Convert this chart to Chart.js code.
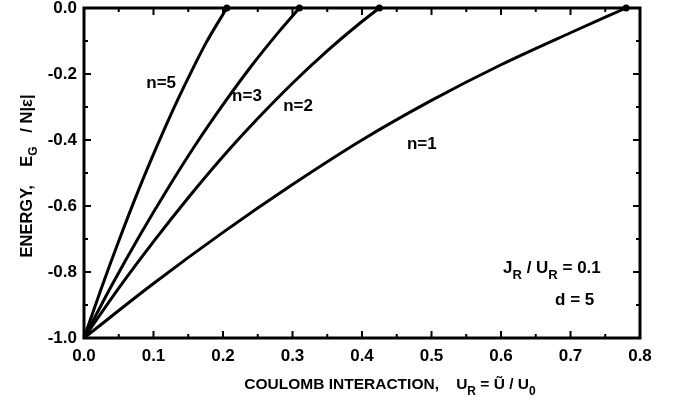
<!DOCTYPE html>
<html><head><meta charset="utf-8">
<script src="https://cdn.jsdelivr.net/npm/chart.js@4/dist/chart.umd.min.js"></script>
<style>html,body{margin:0;padding:0;background:#fff;}#wrap{width:673px;height:411px;}</style>
</head><body><div id="wrap"><canvas id="c" width="673" height="411"></canvas></div>
<script>
// ---- data ----
const seriesNames = ["n=1", "n=2", "n=3", "n=5"];
const u_n1 = [0, 0.1, 0.2, 0.3, 0.4, 0.5, 0.6, 0.7, 0.78];
const e_n1 = [-1, -0.835, -0.68, -0.535, -0.40, -0.28, -0.172, -0.075, 0];
const u_n2 = [0, 0.05, 0.1, 0.15, 0.2, 0.25, 0.3, 0.35, 0.4, 0.425];
const e_n2 = [-1, -0.849, -0.708, -0.575, -0.45, -0.335, -0.228, -0.13, -0.041, 0];
const u_n3 = [0, 0.04, 0.08, 0.12, 0.16, 0.2, 0.24, 0.28, 0.31];
const e_n3 = [-1, -0.84, -0.69, -0.549, -0.416, -0.293, -0.178, -0.073, 0];
const u_n5 = [0, 0.025, 0.05, 0.075, 0.1, 0.125, 0.15, 0.175, 0.2055];
const e_n5 = [-1, -0.849, -0.706, -0.57, -0.443, -0.323, -0.212, -0.108, 0];
const xTickLabels = ["0.0","0.1","0.2","0.3","0.4","0.5","0.6","0.7","0.8"];
const yTickLabels = ["-1.0","-0.8","-0.6","-0.4","-0.2","0.0"];

// label anchor points (data coords)
const curveLabelU = [0.486, 0.308, 0.2345, 0.111];
const curveLabelE = [-0.412, -0.297, -0.267, -0.227];

const FONT = '"Liberation Sans", Arial, Helvetica, sans-serif';
const mk = (us, es) => us.map((u, i) => ({x: u, y: es[i]}));
const allU = [u_n1, u_n2, u_n3, u_n5];
const allE = [e_n1, e_n2, e_n3, e_n5];

const datasets = allU.map((us, k) => ({
  label: seriesNames[k],
  data: mk(us, allE[k]),
  showLine: true,
  borderColor: '#000',
  borderWidth: 3,
  backgroundColor: '#000',
  pointBackgroundColor: '#000',
  pointBorderWidth: 0,
  pointRadius: (ctx) => ctx.dataIndex === us.length - 1 ? 3.5 : 0,
  pointHoverRadius: 0,
  cubicInterpolationMode: 'monotone',
  clip: false
}));

function drawRich(ctx, parts, x, y, align, size) {
  const bs = size || 16;
  const big = 'bold ' + bs + 'px ' + FONT, small = 'bold ' + Math.round(bs * 0.75) + 'px ' + FONT;
  let w = 0;
  parts.forEach(p => { ctx.font = p.s ? small : big; w += ctx.measureText(p.t).width; });
  let cx = align === 'center' ? x - w / 2 : (align === 'right' ? x - w : x);
  ctx.textBaseline = 'middle';
  ctx.textAlign = 'left';
  parts.forEach(p => {
    ctx.font = p.s ? small : big;
    ctx.fillText(p.t, cx, y + (p.s ? 7 : 0));
    cx += ctx.measureText(p.t).width;
  });
}

const decor = {
  id: 'decor',
  beforeDatasetsDraw(chart) {
    const ctx = chart.ctx, a = chart.chartArea;
    const xs = chart.scales.x, ys = chart.scales.y;
    ctx.save();
    ctx.strokeStyle = '#000';
    ctx.lineWidth = 2;
    xs.ticks.forEach((t, i) => {
      const p = xs.getPixelForValue(t.value);
      ctx.beginPath();
      ctx.moveTo(p, a.bottom); ctx.lineTo(p, a.bottom - 7);
      ctx.moveTo(p, a.top); ctx.lineTo(p, a.top + 7);
      if (i < xs.ticks.length - 1) {
        const m = xs.getPixelForValue((t.value + xs.ticks[i + 1].value) / 2);
        ctx.moveTo(m, a.bottom); ctx.lineTo(m, a.bottom - 4);
        ctx.moveTo(m, a.top); ctx.lineTo(m, a.top + 4);
      }
      ctx.stroke();
    });
    ys.ticks.forEach((t, i) => {
      const p = ys.getPixelForValue(t.value);
      ctx.beginPath();
      ctx.moveTo(a.left, p); ctx.lineTo(a.left + 7, p);
      ctx.moveTo(a.right, p); ctx.lineTo(a.right - 7, p);
      if (i < ys.ticks.length - 1) {
        const m = ys.getPixelForValue((t.value + ys.ticks[i + 1].value) / 2);
        ctx.moveTo(a.left, m); ctx.lineTo(a.left + 4, m);
        ctx.moveTo(a.right, m); ctx.lineTo(a.right - 4, m);
      }
      ctx.stroke();
    });
    ctx.lineWidth = 3;
    ctx.strokeRect(a.left, a.top, a.right - a.left, a.bottom - a.top);
    ctx.restore();
  },
  afterDraw(chart) {
    const ctx = chart.ctx, a = chart.chartArea;
    const xs = chart.scales.x, ys = chart.scales.y;
    ctx.save();
    ctx.fillStyle = '#000';
    seriesNames.forEach((n, k) => {
      drawRich(ctx, [{t: n}], xs.getPixelForValue(curveLabelU[k]), ys.getPixelForValue(curveLabelE[k]), 'center', 17);
    });
    drawRich(ctx, [{t: 'J'}, {t: 'R', s: 1}, {t: ' / U'}, {t: 'R', s: 1}, {t: ' = 0.1'}],
      xs.getPixelForValue(0.603), ys.getPixelForValue(-0.788), 'left', 17);
    drawRich(ctx, [{t: 'd = 5'}], xs.getPixelForValue(0.706), ys.getPixelForValue(-0.885), 'center', 17);
    drawRich(ctx, [{t: 'COULOMB INTERACTION,    U'}, {t: 'R', s: 1}, {t: ' = Ũ / U'}, {t: '0', s: 1}],
      390, 385, 'center', 15.5);
    ctx.translate(27, (a.top + a.bottom) / 2 + 3);
    ctx.rotate(-Math.PI / 2);
    drawRich(ctx, [{t: 'ENERGY,    E'}, {t: 'G', s: 1}, {t: '   / N|ε|'}], 0, 0, 'center', 16.5);
    ctx.restore();
  }
};

new Chart(document.getElementById('c'), {
  type: 'scatter',
  data: {datasets},
  options: {
    responsive: false,
    animation: false,
    devicePixelRatio: 1,
    events: [],
    layout: {padding: {top: 8, right: 33, left: 0, bottom: 0}},
    plugins: {legend: {display: false}, tooltip: {enabled: false}},
    scales: {
      x: {
        type: 'linear', min: 0, max: 0.8,
        afterFit: s => { s.height = 73; s.paddingLeft = 0; s.paddingRight = 0; },
        grid: {display: false, drawTicks: false},
        border: {display: false},
        ticks: {
          stepSize: 0.1, padding: 8, color: '#000',
          font: {family: FONT, size: 17, weight: 'bold'},
          maxRotation: 0,
          callback: (v, i) => xTickLabels[i]
        }
      },
      y: {
        type: 'linear', min: -1, max: 0,
        afterFit: s => { s.width = 84; s.paddingTop = 0; s.paddingBottom = 0; },
        grid: {display: false, drawTicks: false},
        border: {display: false},
        ticks: {
          stepSize: 0.2, padding: 7, color: '#000',
          font: {family: FONT, size: 17, weight: 'bold'},
          callback: (v, i) => yTickLabels[i]
        }
      }
    }
  },
  plugins: [decor]
});
</script>
</body></html>
